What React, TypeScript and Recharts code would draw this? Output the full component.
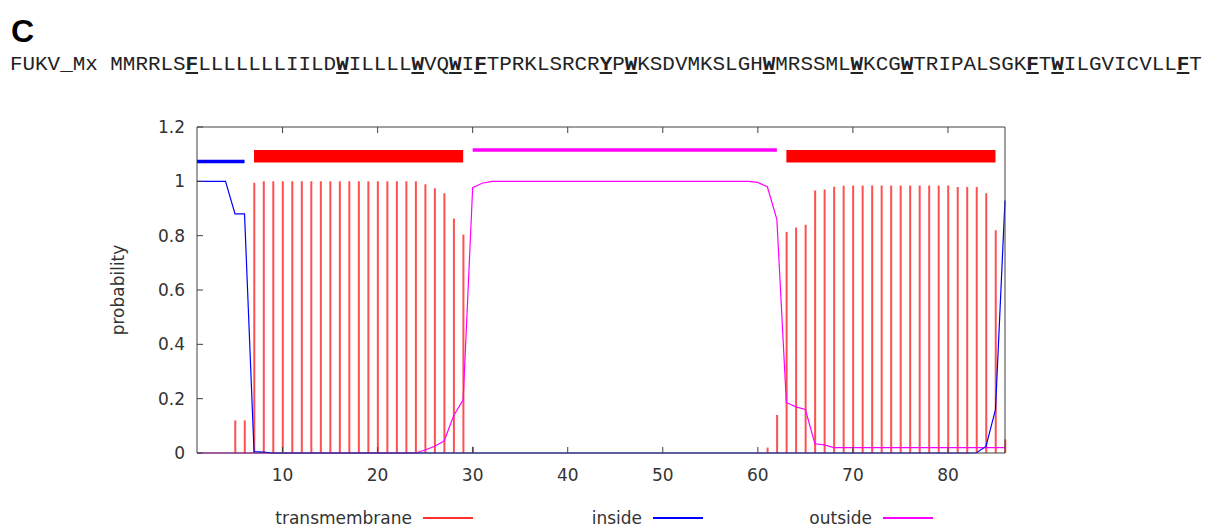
import React from 'react';
import { ComposedChart, Bar, Line, XAxis, YAxis, ReferenceArea, ReferenceLine, Label } from 'recharts';

const seqName = 'FUKV_Mx';
const sequence = 'MMRRLSFLLLLLLLIILDWILLLLWVQWIFTPRKLSRCRYPWKSDVMKSLGHWMRSSMLWKCGWTRIPALSGKFTWILGVICVLLFT';
// residues printed bold + underlined
const marked = [7, 19, 25, 28, 30, 40, 42, 53, 60, 64, 74, 76, 86];

const positions = Array.from({ length: 86 }, (_, i) => i + 1);

const transmembrane = [
  0, 0, 0, 0, 0.12, 0.12, 0.995, 1, 1, 1,
  1, 1, 1, 1, 1, 1, 1, 1, 1, 1,
  1, 1, 1, 1, 0.989, 0.975, 0.956, 0.863, 0.804, 0.023,
  0, 0, 0, 0, 0, 0, 0, 0, 0, 0,
  0, 0, 0, 0, 0, 0, 0, 0, 0, 0,
  0, 0, 0, 0, 0, 0, 0, 0, 0, 0,
  0.02, 0.14, 0.814, 0.83, 0.84, 0.966, 0.97, 0.98, 0.984, 0.985,
  0.985, 0.985, 0.985, 0.985, 0.985, 0.985, 0.985, 0.985, 0.985, 0.985,
  0.979, 0.979, 0.979, 0.956, 0.82, 0.05,
];

const inside = [
  1, 1, 1, 1, 0.88, 0.88, 0.005, 0.003, 0, 0,
  0, 0, 0, 0, 0, 0, 0, 0, 0, 0,
  0, 0, 0, 0, 0, 0, 0, 0, 0, 0,
  0, 0, 0, 0, 0, 0, 0, 0, 0, 0,
  0, 0, 0, 0, 0, 0, 0, 0, 0, 0,
  0, 0, 0, 0, 0, 0, 0, 0, 0, 0,
  0, 0, 0, 0, 0, 0, 0, 0, 0, 0,
  0, 0, 0, 0, 0, 0, 0, 0, 0, 0,
  0, 0, 0.001, 0.024, 0.16, 0.93,
];

const outside = [
  0, 0, 0, 0, 0, 0, 0, 0, 0, 0,
  0, 0, 0, 0, 0, 0, 0, 0, 0, 0,
  0, 0, 0, 0, 0.011, 0.025, 0.044, 0.137, 0.196, 0.977,
  0.993, 1, 1, 1, 1, 1, 1, 1, 1, 1,
  1, 1, 1, 1, 1, 1, 1, 1, 1, 1,
  1, 1, 1, 1, 1, 1, 1, 1, 1, 0.996,
  0.98, 0.86, 0.186, 0.17, 0.16, 0.034, 0.03, 0.02, 0.02, 0.02,
  0.02, 0.02, 0.02, 0.02, 0.02, 0.02, 0.02, 0.02, 0.02, 0.02,
  0.02, 0.02, 0.02, 0.02, 0.02, 0.02,
];

// predicted topology
const topology = [
  { kind: 'inside', start: 1, end: 6 },
  { kind: 'TMhelix', start: 7, end: 29 },
  { kind: 'outside', start: 30, end: 62 },
  { kind: 'TMhelix', start: 63, end: 85 },
];

const xTicks = [10, 20, 30, 40, 50, 60, 70, 80];
const yTicks = [0, 0.2, 0.4, 0.6, 0.8, 1, 1.2];

const RED = '#ff0000';
const BLUE = '#0000ff';
const MAGENTA = '#ff00ff';
const AXIS = '#404040';
const FONT = '"DejaVu Sans", sans-serif';

const legendItems = [
  { name: 'transmembrane', color: '#ff3030' },
  { name: 'inside', color: BLUE },
  { name: 'outside', color: MAGENTA },
];

const topoLevel: Record<string, number> = { inside: 1.073, outside: 1.115 };

const tickStyle = { fontSize: 17, fill: '#333', fontFamily: FONT };

export default function App() {
  const rows = positions.map((pos, i) => ({
    pos,
    tm: transmembrane[i],
    inside: inside[i],
    outside: outside[i],
  }));

  return (
    <div style={{ position: 'absolute', left: 0, top: 0, width: 1214, height: 528, background: '#fff', overflow: 'hidden' }}>
      <div style={{ position: 'absolute', left: 0, top: 0 }}>
        <ComposedChart width={1214} height={528} data={rows} margin={{ top: 126, right: 208, bottom: 45, left: 39 }}>
          <XAxis xAxisId="top" orientation="top" type="number" dataKey="pos" domain={[1, 86]} ticks={xTicks}
            height={1} tickSize={-6} tick={() => <g />} stroke={AXIS} interval={0} />
          <XAxis type="number" dataKey="pos" domain={[1, 86]} ticks={xTicks} height={30} interval={0}
            tickSize={-6} tickMargin={22} tick={tickStyle} stroke={AXIS} />
          <YAxis domain={[0, 1.2]} ticks={yTicks} width={158} interval={0} tickSize={-6} tickMargin={18}
            tick={tickStyle} stroke={AXIS}>
            <Label value="probability" angle={-90} position="center"
              style={{ fontSize: 17, fill: '#333', fontFamily: FONT }} />
          </YAxis>
          <YAxis yAxisId="r" orientation="right" domain={[0, 1.2]} ticks={yTicks} width={1} interval={0}
            tickSize={-6} tick={() => <g />} stroke={AXIS} />

          <Bar dataKey="tm" barSize={2} fill="#ff5050" isAnimationActive={false} />
          <Line type="linear" dataKey="outside" stroke={MAGENTA} strokeWidth={1.2} dot={false} isAnimationActive={false} />
          <Line type="linear" dataKey="inside" stroke={BLUE} strokeWidth={1.2} dot={false} isAnimationActive={false} />

          {topology.map((t, i) =>
            t.kind === 'TMhelix' ? (
              <ReferenceArea key={i} x1={t.start} x2={t.end} y1={1.069} y2={1.115} fill={RED} fillOpacity={1} stroke="none" />
            ) : (
              <ReferenceLine key={i}
                segment={[{ x: t.start, y: topoLevel[t.kind] }, { x: t.end, y: topoLevel[t.kind] }]}
                stroke={t.kind === 'inside' ? BLUE : MAGENTA} strokeWidth={3.5} />
            )
          )}
        </ComposedChart>
      </div>

      <div style={{ position: 'absolute', left: 11, top: 15, fontFamily: '"Liberation Sans", Arial, sans-serif', fontWeight: 700, fontSize: 32, lineHeight: '32px', color: '#000' }}>
        C
      </div>
      <div style={{ position: 'absolute', left: 10, top: 54, fontFamily: '"Liberation Mono", monospace', fontSize: 20.9, lineHeight: '21px', whiteSpace: 'pre', color: '#222' }}>
        {seqName + ' '}
        {sequence.split('').map((ch, i) =>
          marked.includes(i + 1)
            ? <b key={i} style={{ textDecoration: 'underline' }}>{ch}</b>
            : <span key={i}>{ch}</span>
        )}
      </div>

      <div style={{ position: 'absolute', left: 243, top: 508, display: 'flex', fontFamily: FONT, fontSize: 17, color: '#333' }}>
        {legendItems.map((it) => (
          <div key={it.name} style={{ width: 230, display: 'flex', justifyContent: 'flex-end', alignItems: 'center' }}>
            <span>{it.name}</span>
            <span style={{ display: 'inline-block', width: 50, height: 1.5, background: it.color, marginLeft: 11 }} />
          </div>
        ))}
      </div>
    </div>
  );
}
